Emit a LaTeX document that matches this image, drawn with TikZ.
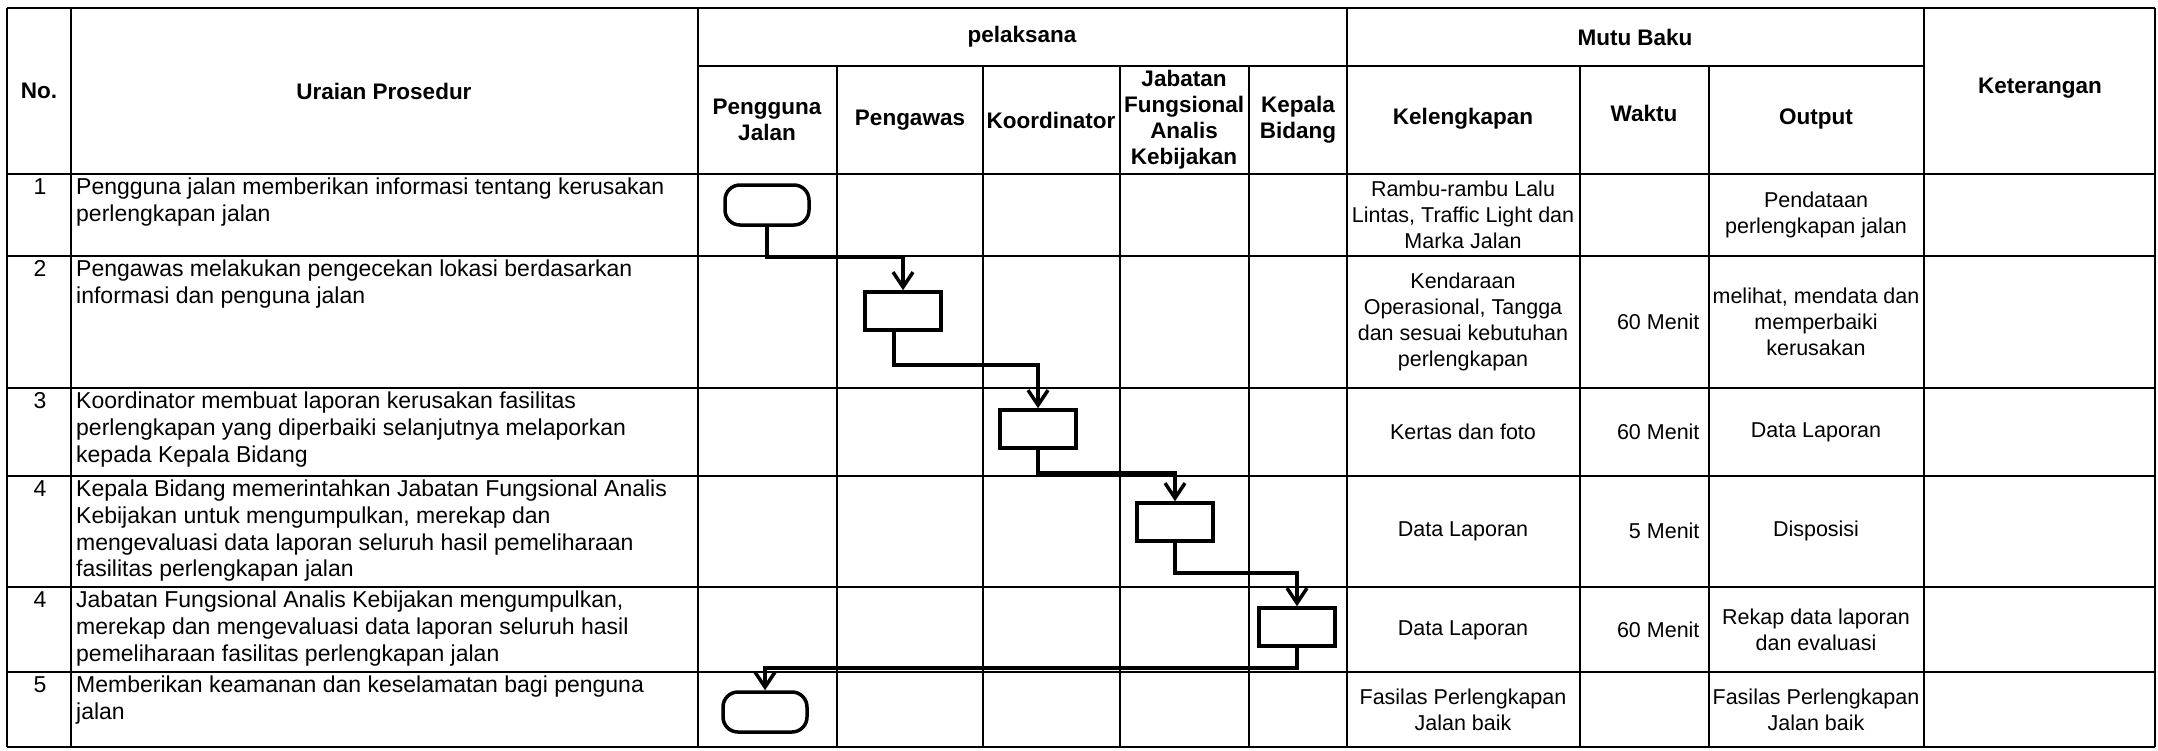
\documentclass[tikz,border=0pt]{standalone}
\usepackage{fontspec}
\setmainfont{Liberation Sans}
\usetikzlibrary{arrows.meta}
\begin{document}
\begin{tikzpicture}[x=1pt, y=-1pt,
    gridLine/.style={line width=2.2pt},
    headText/.style={font=\fontsize{22.5}{26}\selectfont\bfseries, align=center},
    cellText/.style={font=\fontsize{21.5}{26}\selectfont, align=center},
    descText/.style={font=\fontsize{23}{26.7}\selectfont, align=left, anchor=north west, inner sep=2pt},
    startEnd/.style={draw, line width=3.5pt, rounded corners=15pt, minimum width=84pt, minimum height=40pt},
    process/.style={draw, line width=3.5pt, minimum width=76pt, minimum height=38pt},
    flowArrow/.style={line width=3.5pt, -{Straight Barb[length=15pt,width=20pt]}}]

    % Fix picture size
    \useasboundingbox (0,0) rectangle (2158,750);

    % Draw table lines
    \draw[gridLine] (7,8) -- (2155,8);
    \draw[gridLine] (698,66) -- (1924,66);
    \foreach \y in {174,256,388,476,587,672,747}
        \draw[gridLine] (7,\y) -- (2155,\y);
    \foreach \x in {7,71,698,1347,1924,2155}
        \draw[gridLine] (\x,8) -- (\x,747);
    \foreach \x in {837,983,1120,1249,1580,1709}
        \draw[gridLine] (\x,66) -- (\x,747);

    % Header
    \node[headText] (hNo) at (39,91) {No.};
    \node[headText] (hUraian) at (384,91) {Uraian Prosedur};
    \node[headText] (hPelaksana) at (1022,37) {pelaksana};
    \node[headText] (hMutu) at (1635,37) {Mutu Baku};
    \node[headText] (hKet) at (2040,88) {Keterangan};
    \node[headText] (hPengguna) at (767,120) {Pengguna\\Jalan};
    \node[headText] (hPengawas) at (910,120) {Pengawas};
    \node[headText] (hKoord) at (1051,120) {Koordinator};
    \node[headText] (hJabatan) at (1184,120) {Jabatan\\Fungsional\\Analis\\Kebijakan};
    \node[headText] (hKepala) at (1298,120) {Kepala\\Bidang};
    \node[headText] (hKel) at (1463,119) {Kelengkapan};
    \node[headText] (hWaktu) at (1644,113) {Waktu};
    \node[headText] (hOutput) at (1816,119) {Output};

    % Step numbers
    \node[descText, anchor=north] (no1) at (40,176) {1};
    \node[descText, anchor=north] (no2) at (40,258) {2};
    \node[descText, anchor=north] (no3) at (40,390) {3};
    \node[descText, anchor=north] (no4) at (40,478) {4};
    \node[descText, anchor=north] (no5) at (40,589) {4};
    \node[descText, anchor=north] (no6) at (40,674) {5};

    % Procedure descriptions
    \node[descText] (desc1) at (74,176) {Pengguna jalan memberikan informasi tentang kerusakan\\perlengkapan jalan};
    \node[descText] (desc2) at (74,258) {Pengawas melakukan pengecekan lokasi berdasarkan\\informasi dan penguna jalan};
    \node[descText] (desc3) at (74,390) {Koordinator membuat laporan kerusakan fasilitas\\perlengkapan yang diperbaiki selanjutnya melaporkan\\kepada Kepala Bidang};
    \node[descText] (desc4) at (74,478) {Kepala Bidang memerintahkan Jabatan Fungsional Analis\\Kebijakan untuk mengumpulkan, merekap dan\\mengevaluasi data laporan seluruh hasil pemeliharaan\\fasilitas perlengkapan jalan};
    \node[descText] (desc5) at (74,589) {Jabatan Fungsional Analis Kebijakan mengumpulkan,\\merekap dan mengevaluasi data laporan seluruh hasil\\pemeliharaan fasilitas perlengkapan jalan};
    \node[descText] (desc6) at (74,674) {Memberikan keamanan dan keselamatan bagi penguna\\jalan};

    % Kelengkapan
    \node[cellText] (kel1) at (1463,215) {Rambu-rambu Lalu\\Lintas, Traffic Light dan\\Marka Jalan};
    \node[cellText] (kel2) at (1463,322) {Kendaraan\\Operasional, Tangga\\dan sesuai kebutuhan\\perlengkapan};
    \node[cellText] (kel3) at (1463,432) {Kertas dan foto};
    \node[cellText] (kel4) at (1463,531) {Data Laporan};
    \node[cellText] (kel5) at (1463,630) {Data Laporan};
    \node[cellText] (kel6) at (1463,710) {Fasilas Perlengkapan\\Jalan baik};

    % Waktu
    \node[cellText, anchor=east] (wkt2) at (1703,322) {60 Menit};
    \node[cellText, anchor=east] (wkt3) at (1703,432) {60 Menit};
    \node[cellText, anchor=east] (wkt4) at (1703,531) {5 Menit};
    \node[cellText, anchor=east] (wkt5) at (1703,630) {60 Menit};

    % Output
    \node[cellText] (out1) at (1816,215) {Pendataan\\perlengkapan jalan};
    \node[cellText] (out2) at (1816,322) {melihat, mendata dan\\memperbaiki\\kerusakan};
    \node[cellText] (out3) at (1816,432) {Data Laporan};
    \node[cellText] (out4) at (1816,531) {Disposisi};
    \node[cellText] (out5) at (1816,630) {Rekap data laporan\\dan evaluasi};
    \node[cellText] (out6) at (1816,710) {Fasilas Perlengkapan\\Jalan baik};

    % Flow symbols
    \node[startEnd] (t1) at (767,205) {};
    \node[process] (p2) at (903,311) {};
    \node[process] (p3) at (1038,429) {};
    \node[process] (p4) at (1175,522) {};
    \node[process] (p5) at (1297,627) {};
    \node[startEnd] (t6) at (765,712) {};

    % Bend heights of the connectors
    \coordinate (bend1) at (0,257);
    \coordinate (bend2) at (0,365);
    \coordinate (bend3) at (0,473);
    \coordinate (bend4) at (0,573);
    \coordinate (bend5) at (0,668);

    % Draw connectors
    \draw[flowArrow] (t1.south) |- (p2.north |- bend1) -- (p2.north);
    \draw[flowArrow] ([xshift=-9pt]p2.south) |- (p3.north |- bend2) -- (p3.north);
    \draw[flowArrow] (p3.south) |- (p4.north |- bend3) -- (p4.north);
    \draw[flowArrow] (p4.south) |- (p5.north |- bend4) -- (p5.north);
    \draw[flowArrow] (p5.south) |- (t6.north |- bend5) -- (t6.north);

\end{tikzpicture}
\end{document}
